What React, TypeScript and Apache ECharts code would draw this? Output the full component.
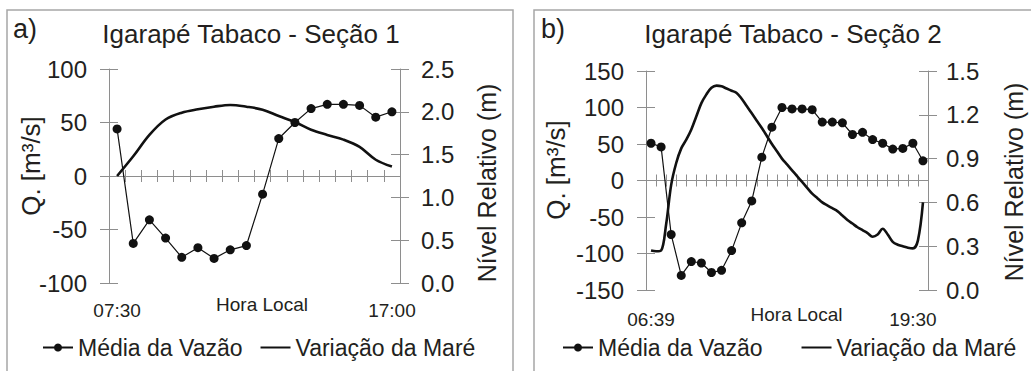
import React, { useEffect, useRef } from "react";
import * as echarts from "echarts";

// ---- Panel a) Igarapé Tabaco - Seção 1 ----
const vazaoA = [44, -63, -41, -58, -76, -67, -77, -69, -65, -17, 35, 50, 63, 67, 67, 66, 55, 60];
const mareA = [1.25, 1.48, 1.73, 1.91, 1.99, 2.03, 2.06, 2.08, 2.06, 2.025, 1.95, 1.88, 1.79, 1.73, 1.675, 1.59, 1.44, 1.36];
const timeLabelsA: Record<number, string> = { 0: "07:30", 17: "17:00" };

// ---- Panel b) Igarapé Tabaco - Seção 2 ----
const vazaoB = [51, 46, -74, -130, -111, -113, -126, -123, -96, -58, -28, 32, 73, 100, 98, 98, 97, 80, 80, 79, 63, 66, 56, 51, 43, 44, 51, 27];
// [sample position, level (m)]
const mareB: [number, number][] = [
  [0, 0.27], [0.5, 0.265], [1, 0.27], [1.5, 0.45], [2, 0.72], [2.5, 0.87], [3, 0.97], [3.5, 1.03],
  [4, 1.1], [4.5, 1.19], [5, 1.28], [5.5, 1.34], [6, 1.385], [6.5, 1.4], [7, 1.395], [7.5, 1.38],
  [8, 1.365], [8.5, 1.35], [9, 1.31], [9.5, 1.26], [10, 1.21], [10.5, 1.16], [11, 1.11], [11.5, 1.055],
  [12, 1.0], [12.5, 0.95], [13, 0.9], [13.5, 0.86], [14, 0.82], [14.5, 0.78], [15, 0.74], [15.5, 0.7],
  [16, 0.66], [16.5, 0.63], [17, 0.6], [17.5, 0.58], [18, 0.56], [18.5, 0.54], [19, 0.51], [19.5, 0.48],
  [20, 0.455], [20.5, 0.43], [21, 0.41], [21.5, 0.39], [22, 0.365], [22.5, 0.38], [23, 0.42], [23.5, 0.38],
  [24, 0.33], [24.5, 0.31], [25, 0.3], [25.5, 0.29], [26, 0.285], [26.5, 0.34], [27, 0.6],
];
const timeLabelsB: Record<number, string> = { 0: "06:39", 26: "19:30" };

const titles = ["Igarapé Tabaco - Seção 1", "Igarapé Tabaco - Seção 2"];
const panelTags = ["a)", "b)"];
const serieNames = ["Média da Vazão", "Variação da Maré"];
const qAxisName = "Q. [m³/s]";
const hAxisName = "Nível Relativo (m)";
const xAxisName = "Hora Local";

const FONT = "'Liberation Sans', Arial, Helvetica, sans-serif";
const TXT = "#231f20";
const AXC = "#8e8e8e";
const LINE = "#111111";

type PanelCfg = {
  grid: { left: number; top: number; width: number; height: number };
  vazao: number[];
  mare: [number, number][];
  labels: Record<number, string>;
  qMin: number; qMax: number; qInt: number;
  hMax: number; hInt: number;
  labelMargin: number; xNameGap: number; xNamePad: number; hLabelMargin: number;
  qNamePos: [number, number]; hNamePos: [number, number];
};

const panels: PanelCfg[] = [
  {
    grid: { left: 109, top: 69, width: 291, height: 214 },
    vazao: vazaoA,
    mare: mareA.map((h, i) => [i, h] as [number, number]),
    labels: timeLabelsA,
    qMin: -100, qMax: 100, qInt: 50,
    hMax: 2.5, hInt: 0.5,
    labelMargin: 18, xNameGap: 12, xNamePad: 15, hLabelMargin: 21,
    qNamePos: [31, 166], hNamePos: [487, 183],
  },
  {
    grid: { left: 646, top: 71, width: 282, height: 219 },
    vazao: vazaoB,
    mare: mareB,
    labels: timeLabelsB,
    qMin: -150, qMax: 150, qInt: 50,
    hMax: 1.5, hInt: 0.3,
    labelMargin: 20, xNameGap: 15, xNamePad: 19, hLabelMargin: 18,
    qNamePos: [556, 170], hNamePos: [1014, 182],
  },
];

function buildOption() {
  const grid: any[] = [];
  const xAxis: any[] = [];
  const yAxis: any[] = [];
  const series: any[] = [];
  const graphic: any[] = [
    { type: "rect", shape: { x: 7, y: 10, width: 506, height: 420 }, style: { fill: "none", stroke: "#a6a6a6", lineWidth: 1.5 }, silent: true },
    { type: "rect", shape: { x: 534, y: 10, width: 520, height: 420 }, style: { fill: "none", stroke: "#a6a6a6", lineWidth: 1.5 }, silent: true },
    { type: "text", left: 13, top: 15, style: { text: panelTags[0], font: `27px ${FONT}`, fill: TXT } },
    { type: "text", left: 541, top: 15, style: { text: panelTags[1], font: `27px ${FONT}`, fill: TXT } },
    { type: "text", x: 251, y: 34, style: { text: titles[0], font: `26px ${FONT}`, fill: TXT, textAlign: "center", textVerticalAlign: "middle" } },
    { type: "text", x: 793, y: 34, style: { text: titles[1], font: `26px ${FONT}`, fill: TXT, textAlign: "center", textVerticalAlign: "middle" } },
  ];

  panels.forEach((p, g) => {
    grid.push({ ...p.grid, containLabel: false, outerBoundsMode: "none" });
    const cats = p.vazao.map((_, i) => String(i + 1));
    const qIdx = 4 * g;
    // main category axis (line, downward ticks, labels, name)
    xAxis.push({
      gridIndex: g, type: "category", data: cats, position: "bottom", boundaryGap: true,
      axisLine: { show: true, onZero: true, onZeroAxisIndex: qIdx, lineStyle: { color: AXC, width: 1 } },
      axisTick: { show: true, interval: 0, length: 6, inside: false, lineStyle: { color: AXC } },
      axisLabel: {
        show: true, interval: 0, margin: p.labelMargin, fontSize: 19, fontFamily: FONT, color: TXT,
        formatter: (_v: string, i: number) => p.labels[i] ?? "",
      },
      name: xAxisName, nameLocation: "middle", nameGap: p.xNameGap, nameMoveOverlap: false,
      nameTextStyle: { fontSize: 19, fontFamily: FONT, color: TXT, padding: [0, 0, 0, p.xNamePad] },
      splitLine: { show: false },
    });
    // upward ticks
    xAxis.push({
      gridIndex: g, type: "category", data: cats, position: "bottom", boundaryGap: true,
      axisLine: { show: false, onZero: true, onZeroAxisIndex: qIdx },
      axisTick: { show: true, interval: 0, length: 6, inside: true, lineStyle: { color: AXC } },
      axisLabel: { show: false },
      splitLine: { show: false },
    });
    // hidden value axis for the tide curve (sample positions)
    xAxis.push({
      gridIndex: g, type: "value", min: -0.5, max: p.vazao.length - 0.5, show: false,
      axisLine: { onZero: false }, splitLine: { show: false },
    });

    const qAxisBase = {
      gridIndex: g, type: "value", position: "left", min: p.qMin, max: p.qMax, interval: p.qInt,
      splitLine: { show: false },
    };
    const hAxisBase = {
      gridIndex: g, type: "value", position: "right", min: 0, max: p.hMax, interval: p.hInt,
      splitLine: { show: false },
    };
    yAxis.push({
      ...qAxisBase,
      axisLine: { show: true, onZero: false, lineStyle: { color: AXC, width: 1 } },
      axisTick: { show: true, length: 9, lineStyle: { color: AXC } },
      axisLabel: { margin: 22, fontSize: 24, fontFamily: FONT, color: TXT },
    });
    yAxis.push({
      ...hAxisBase,
      axisLine: { show: true, onZero: false, lineStyle: { color: AXC, width: 1 } },
      axisTick: { show: true, length: 9, lineStyle: { color: AXC } },
      axisLabel: {
        margin: p.hLabelMargin, fontSize: 24, fontFamily: FONT, color: TXT,
        formatter: (v: number) => v.toFixed(1),
      },
    });
    yAxis.push({
      ...qAxisBase,
      axisLine: { show: false, onZero: false },
      axisTick: { show: true, inside: true, length: 9, lineStyle: { color: AXC } },
      axisLabel: { show: false },
    });
    yAxis.push({
      ...hAxisBase,
      axisLine: { show: false, onZero: false },
      axisTick: { show: true, inside: true, length: 9, lineStyle: { color: AXC } },
      axisLabel: { show: false },
    });

    // axis titles (rotated, reading upward)
    graphic.push({
      type: "text", x: p.qNamePos[0], y: p.qNamePos[1], rotation: Math.PI / 2,
      style: { text: qAxisName, font: `26px ${FONT}`, fill: TXT, textAlign: "center", textVerticalAlign: "middle" },
    });
    graphic.push({
      type: "text", x: p.hNamePos[0], y: p.hNamePos[1], rotation: Math.PI / 2,
      style: { text: hAxisName, font: `25px ${FONT}`, fill: TXT, textAlign: "center", textVerticalAlign: "middle" },
    });

    series.push({
      name: serieNames[1], type: "line", xAxisIndex: 3 * g + 2, yAxisIndex: 4 * g + 1,
      data: p.mare, smooth: 0.35, symbol: "none",
      lineStyle: { color: LINE, width: 2.6 }, itemStyle: { color: LINE, opacity: 0 },
      z: 3,
    });
    series.push({
      name: serieNames[0], type: "line", xAxisIndex: 3 * g, yAxisIndex: 4 * g,
      data: p.vazao, symbol: "circle", symbolSize: 9,
      lineStyle: { color: LINE, width: 1.2 }, itemStyle: { color: LINE },
      z: 4,
    });
  });

  const legendBase = {
    orient: "horizontal", top: 336, padding: 0, itemWidth: 30, itemHeight: 10, selectedMode: false,
    textStyle: { fontSize: 23, fontFamily: FONT, color: TXT },
    data: [
      { name: serieNames[0] },
      { name: serieNames[1], itemStyle: { opacity: 0 } },
    ],
  };

  return {
    animation: false,
    backgroundColor: "#ffffff",
    textStyle: { fontFamily: FONT },
    grid,
    xAxis,
    yAxis,
    series,
    legend: [
      { ...legendBase, left: 42, itemGap: 17 },
      { ...legendBase, left: 562, itemGap: 38 },
    ],
    graphic,
  };
}

export default function App() {
  const ref = useRef<HTMLDivElement>(null);
  useEffect(() => {
    document.body.style.margin = "0";
    if (!ref.current) return;
    const chart = echarts.init(ref.current, undefined, { renderer: "svg" });
    chart.setOption(buildOption() as any);
    return () => chart.dispose();
  }, []);
  return <div ref={ref} style={{ width: 1031, height: 371, background: "#fff" }} />;
}
